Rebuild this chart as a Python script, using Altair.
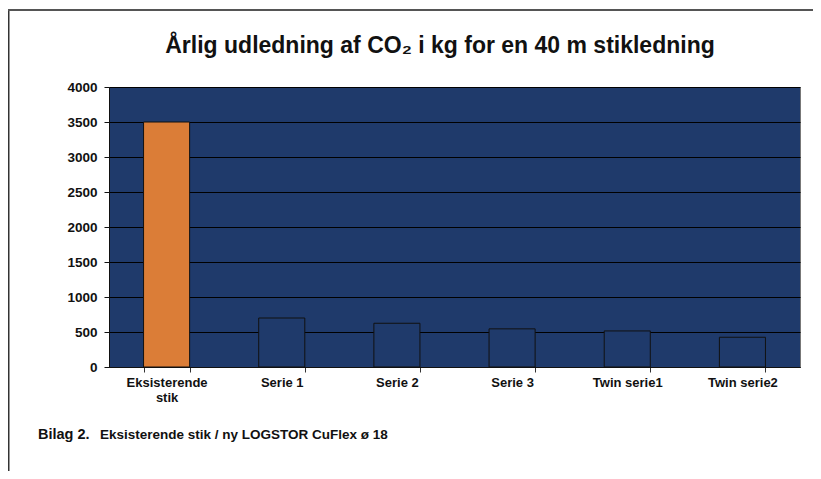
import altair as alt
import pandas as pd

categories = ["Eksisterende stik", "Serie 1", "Serie 2", "Serie 3", "Twin serie1", "Twin serie2"]
values = [3500, 700, 625, 545, 515, 425]
colors = ["#DB7D37", "#1F3A6B", "#1F3A6B", "#1F3A6B", "#1F3A6B", "#1F3A6B"]

title_text = "Årlig udledning af CO₂ i kg for en 40 m stikledning"
footer_label = "Bilag 2."
footer_text = "Eksisterende stik / ny LOGSTOR CuFlex ø 18"
y_ticks = [0, 500, 1000, 1500, 2000, 2500, 3000, 3500, 4000]

FONT = "Liberation Sans"
NAVY = "#1F3A6B"

df = pd.DataFrame({"cat": categories, "val": values, "col": colors})

W, H = 691, 280

bars = alt.Chart(df).mark_bar(stroke="#111111", strokeWidth=1).encode(
    x=alt.X(
        "cat:N",
        sort=categories,
        scale=alt.Scale(paddingInner=0.6, paddingOuter=0.3),
        axis=alt.Axis(
            title=None,
            labelAngle=0,
            labelFont=FONT,
            labelFontSize=13,
            labelFontWeight="bold",
            labelColor="#111111",
            labelPadding=4,
            labelLineHeight=15,
            tickBand="extent",
            tickSize=5,
            tickColor="#333333",
            domainColor="#111111",
            labelExpr="datum.label == 'Eksisterende stik' ? ['Eksisterende', 'stik'] : datum.label",
        ),
    ),
    y=alt.Y(
        "val:Q",
        scale=alt.Scale(domain=[0, 4000], nice=False),
        axis=alt.Axis(
            title=None,
            values=y_ticks,
            format="d",
            labelFont=FONT,
            labelFontSize=13.5,
            labelFontWeight="bold",
            labelColor="#111111",
            labelPadding=7,
            tickSize=5,
            tickColor="#111111",
            domainColor="#111111",
            grid=True,
            gridColor="#000000",
            gridWidth=1,
            gridOpacity=1,
        ),
    ),
    color=alt.Color("col:N", scale=None, legend=None),
)

one = pd.DataFrame({"a": [0]})

frame_left = alt.Chart(one).mark_rule(color="#333333", strokeWidth=2).encode(
    x=alt.value(-100.5), y=alt.value(-77), y2=alt.value(400)
)
frame_top = alt.Chart(one).mark_rule(color="#555555", strokeWidth=2).encode(
    x=alt.value(-101), x2=alt.value(720), y=alt.value(-77)
)

title = alt.Chart(one).mark_text(
    text=title_text, font=FONT, fontSize=23, fontWeight="bold", align="center", baseline="middle", color="#111111"
).encode(x=alt.value(331), y=alt.value(-41))

foot1 = alt.Chart(one).mark_text(
    text=footer_label, font=FONT, fontSize=14.5, fontWeight="bold", align="left", baseline="middle", color="#111111"
).encode(x=alt.value(-71), y=alt.value(348))
foot2 = alt.Chart(one).mark_text(
    text=footer_text, font=FONT, fontSize=13.5, fontWeight="bold", align="left", baseline="middle", color="#111111"
).encode(x=alt.value(-9), y=alt.value(348))

chart = alt.layer(bars, frame_left, frame_top, title, foot1, foot2).properties(
    width=W,
    height=H,
    background="white",
    autosize=alt.AutoSizeParams(type="none"),
    padding={"left": 101, "top": 79, "right": 13, "bottom": 104},
).configure_view(
    fill=NAVY, stroke="#777777", strokeWidth=1
)

chart.save("out.html", embed_options={"renderer": "svg", "actions": False})
